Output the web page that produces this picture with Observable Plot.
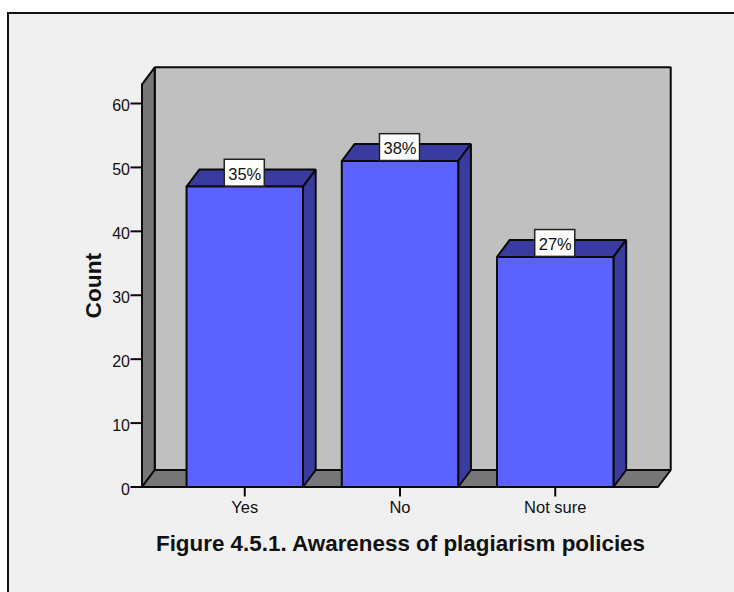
<!DOCTYPE html>
<html>
<head>
<meta charset="utf-8">
<script src="https://cdn.jsdelivr.net/npm/d3@7"></script>
<script src="https://cdn.jsdelivr.net/npm/@observablehq/plot@0.6"></script>
<style>
  html, body { margin: 0; padding: 0; background: #fff; overflow: hidden; }
  #page { position: relative; width: 734px; height: 592px; overflow: hidden; }
  #frame { position: absolute; left: 7px; top: 12px; width: 727px; height: 580px; box-sizing: border-box;
           background: #f0f0f0; border-left: 2px solid #111; border-top: 2px solid #111; }
  #chart { position: absolute; left: 0; top: 0; }
  #caption { position: absolute; left: 0; top: 531px; width: 801px; text-align: center;
             font: bold 22.4px "Liberation Sans", Arial, sans-serif; color: #111; }
</style>
</head>
<body>
<div id="page">
  <div id="frame"></div>
  <div id="chart"></div>
  <div id="caption">Figure 4.5.1. Awareness of plagiarism policies</div>
</div>
<script>
const categories = ["Yes", "No", "Not sure"];
const counts = [47, 51, 36];
const percents = ["35%", "38%", "27%"];
const yTicks = [0, 10, 20, 30, 40, 50, 60];

const wallColor = "#c0c0c0", sideColor = "#777777", frontColor = "#5c62ff", darkColor = "#3a3b9e", ink = "#0a0a0a";
const halfBar = 0.375, depthX = 0.082, depthY = 2.66, yTop = 63;
const xMin = -0.662, xMax = 2.662;
const boxHalf = 0.129, boxHeight = 4.2;

const poly = (pts, fill) => Plot.line(pts, {x: "0", y: "1", fill, stroke: ink, strokeWidth: 2, strokeLinejoin: "miter", curve: "linear"});

const marks = [
  poly([[xMin+depthX, depthY],[xMax+depthX, depthY],[xMax+depthX, yTop+depthY],[xMin+depthX, yTop+depthY],[xMin+depthX, depthY]], wallColor),
  poly([[xMin, 0],[xMin+depthX, depthY],[xMin+depthX, yTop+depthY],[xMin, yTop],[xMin, 0]], sideColor),
  poly([[xMin, 0],[xMax, 0],[xMax+depthX, depthY],[xMin+depthX, depthY],[xMin, 0]], sideColor)
];

counts.forEach((v, i) => {
  const l = i - halfBar, r = i + halfBar;
  marks.push(
    poly([[l, v],[r, v],[r+depthX, v+depthY],[l+depthX, v+depthY],[l, v]], darkColor),
    poly([[r, 0],[r+depthX, depthY],[r+depthX, v+depthY],[r, v],[r, 0]], darkColor),
    poly([[l, 0],[r, 0],[r, v],[l, v],[l, 0]], frontColor)
  );
});

marks.push(
  Plot.rect(counts, {
    x1: (d, i) => i - boxHalf, x2: (d, i) => i + boxHalf,
    y1: d => d, y2: d => d + boxHeight,
    fill: "white", stroke: "#222", strokeWidth: 1.5
  }),
  Plot.text(counts, {
    x: (d, i) => i, y: d => d + boxHeight / 2, dy: 1.5,
    text: (d, i) => percents[i], fontSize: 16.5, fill: "#111"
  }),
  Plot.axisY({
    ticks: yTicks, tickSize: 11, tickFormat: () => "", label: null,
    stroke: ink, strokeWidth: 2
  }),
  Plot.axisY({
    ticks: yTicks, tickSize: 0, tickPadding: 12, dy: 2.5, fontSize: 16, label: null, fill: "#111"
  }),
  Plot.axisX({
    ticks: [0, 1, 2], tickFormat: i => categories[i], tickSize: 10, tickPadding: 4,
    fontSize: 16.5, label: null, stroke: ink, strokeWidth: 2, fill: "#111"
  }),
  Plot.text(["Count"], {
    x: xMin - 0.313, y: 31.5, text: d => d, rotate: -90,
    fontSize: 22.7, fontWeight: "bold", fill: "#111"
  })
);

const chart = Plot.plot({
  width: 734, height: 592,
  marginLeft: 141.5, marginRight: 76.5, marginTop: 103, marginBottom: 105.5,
  x: {domain: [xMin, xMax]},
  y: {domain: [0, 60]},
  style: {background: "transparent", fontFamily: "'Liberation Sans', Arial, sans-serif", overflow: "visible"},
  marks
});
document.getElementById("chart").appendChild(chart);
</script>
</body>
</html>
